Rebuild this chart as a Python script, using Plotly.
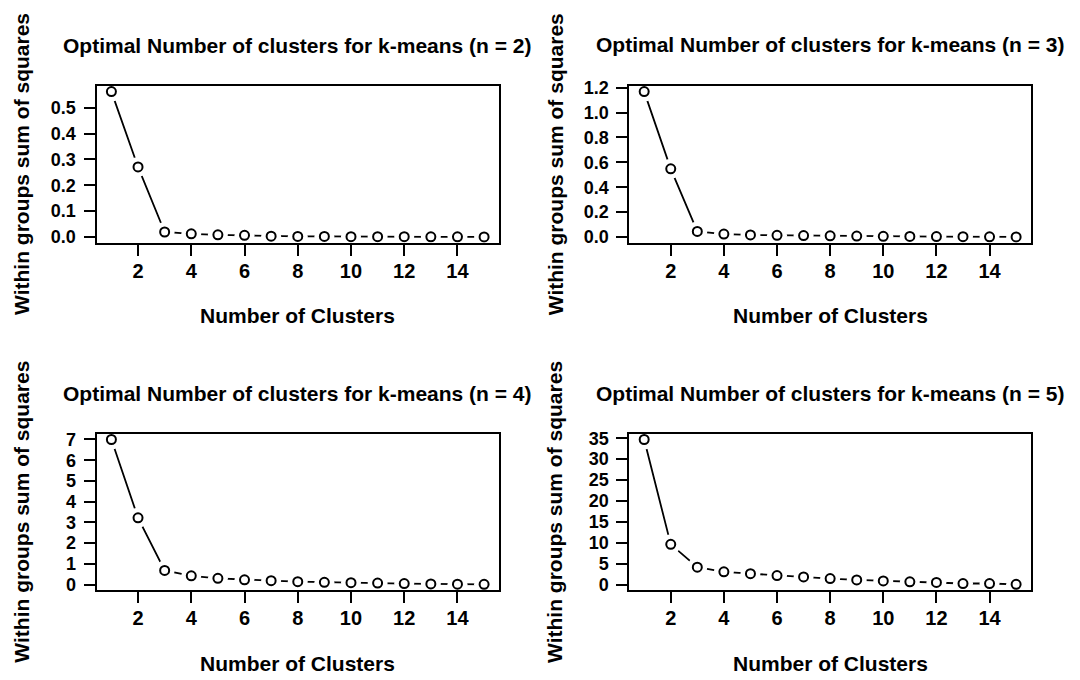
import plotly.graph_objects as go

clusters = list(range(1, 16))
wss_n2 = [0.563, 0.271, 0.019, 0.012, 0.008, 0.006, 0.003, 0.002, 0.002, 0.001, 0.001, 0.001, 0.0005, 0.0005, 0.0]
wss_n3 = [1.168, 0.548, 0.045, 0.024, 0.017, 0.014, 0.012, 0.010, 0.008, 0.006, 0.005, 0.004, 0.003, 0.002, 0.001]
wss_n4 = [7.0, 3.22, 0.68, 0.42, 0.30, 0.23, 0.19, 0.14, 0.11, 0.09, 0.07, 0.05, 0.03, 0.02, 0.01]
wss_n5 = [34.7, 9.65, 4.2, 3.1, 2.65, 2.2, 1.87, 1.47, 1.17, 0.93, 0.70, 0.55, 0.30, 0.30, 0.10]
series = [wss_n2, wss_n3, wss_n4, wss_n5]
n_values = [2, 3, 4, 5]
y_dticks = [0.1, 0.2, 1, 5]
y_formats = [".1f", ".1f", "d", "d"]
x_tickvals = [2, 4, 6, 8, 10, 12, 14]

W, H = 1080, 680
FONT = "Liberation Sans, Arial, Helvetica, sans-serif"
# panel boxes in pixels (left, right, top, bottom)
boxes = [(96.5, 499, 79.3, 239.3), (629.3, 1031, 79.3, 239.3),
         (96.5, 499, 434, 593.5), (629.3, 1031, 434, 593.5)]
title_y = [38.5, 37.5, 393, 392.7]
xtitle_y = [313, 313, 668, 668]
ytitle_x = [21.7, 555, 21.7, 555]

def r_range(vals):
    lo, hi = min(vals), max(vals)
    pad = 0.04 * (hi - lo)
    return [lo - pad, hi + pad]

fig = go.Figure()
annotations = []
layout = {}
for i, (vals, n) in enumerate(zip(series, n_values)):
    k = "" if i == 0 else str(i + 1)
    xa, ya = "x" + k, "y" + k
    L, R, T, B = boxes[i]
    fig.add_trace(go.Scatter(x=clusters, y=vals, mode="lines", xaxis=xa, yaxis=ya,
                             line=dict(color="black", width=1.8), showlegend=False, hoverinfo="skip"))
    fig.add_trace(go.Scatter(x=clusters, y=vals, mode="markers", xaxis=xa, yaxis=ya,
                             marker=dict(size=20, color="white", line=dict(width=0)),
                             showlegend=False, hoverinfo="skip"))
    fig.add_trace(go.Scatter(x=clusters, y=vals, mode="markers", xaxis=xa, yaxis=ya,
                             marker=dict(size=9, color="white", line=dict(color="black", width=2)),
                             showlegend=False))
    common = dict(showline=True, mirror=True, linecolor="black", linewidth=2,
                  ticks="outside", ticklen=11, tickwidth=2, tickcolor="black",
                  showgrid=False, zeroline=False)
    layout["xaxis" + k] = dict(common, domain=[L / W, R / W], anchor=ya,
                               range=r_range(clusters), tickmode="array", tickvals=x_tickvals,
                               ticklabelstandoff=-2,
                               tickfont=dict(family=FONT, size=20, color="black", weight="bold"))
    layout["yaxis" + k] = dict(common, domain=[1 - B / H, 1 - T / H], anchor=xa,
                               range=r_range(vals), dtick=y_dticks[i], tick0=0,
                               tickformat=y_formats[i], ticklabelstandoff=4,
                               tickfont=dict(family=FONT, size=18, color="black", weight="bold"))
    cx = (L + R) / 2 / W
    annotations.append(dict(text=f"Optimal Number of clusters for k-means (n = {n})",
                            x=cx, y=1 - title_y[i] / H, xref="paper", yref="paper",
                            xanchor="center", yanchor="middle", showarrow=False,
                            font=dict(family=FONT, size=21, color="black", weight="bold")))
    annotations.append(dict(text="Number of Clusters",
                            x=cx, y=1 - xtitle_y[i] / H, xref="paper", yref="paper",
                            xanchor="center", yanchor="middle", showarrow=False,
                            font=dict(family=FONT, size=21, color="black", weight="bold")))
    annotations.append(dict(text="Within groups sum of squares", textangle=-90,
                            x=ytitle_x[i] / W, y=1 - (T + B) / 2 / H, xref="paper", yref="paper",
                            xanchor="center", yanchor="middle", showarrow=False,
                            font=dict(family=FONT, size=21, color="black", weight="bold")))

fig.update_layout(width=W, height=H, margin=dict(l=0, r=0, t=0, b=0),
                  paper_bgcolor="white", plot_bgcolor="white",
                  annotations=annotations, **layout)
fig.write_html("out.html")
